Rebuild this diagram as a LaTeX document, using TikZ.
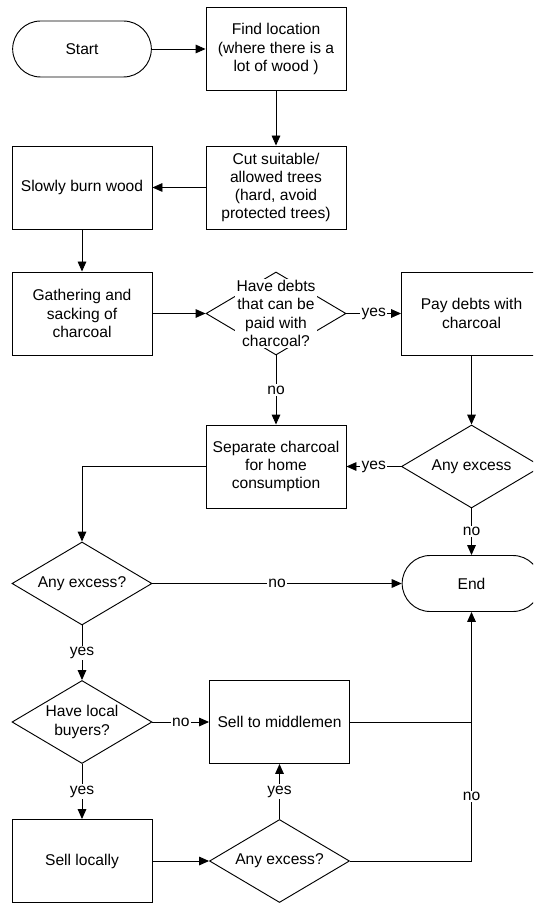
\documentclass[tikz,border=0pt]{standalone}
\usepackage{fontspec}
\setmainfont{Liberation Sans}
\usetikzlibrary{shapes.geometric,arrows.meta}

\begin{document}
\begin{tikzpicture}[x=0.75pt,y=-0.75pt,line width=0.7pt,
  every node/.style={font=\fontsize{11.7}{13.7}\selectfont},
  >={Triangle[length=7.5pt,width=6.5pt]},
  box/.style={draw,rectangle,minimum width=105pt,minimum height=62.25pt,align=center,inner sep=2pt},
  term/.style={draw,rounded corners=21pt,minimum width=104pt,minimum height=42pt},
  decide/.style={draw,diamond,minimum width=105pt,minimum height=62.25pt,inner sep=0pt},
  qtext/.style={fill=white,align=center,inner sep=1pt},
  lab/.style={fill=white,inner sep=1pt}]
\clip(0,0)rectangle(533,905);
%
\node[term](start)at(82,49){Start};
\node[box](find)at(276,49){Find location\\(where there is a\\lot of wood )};
\node[box](cut)at(276,187.5){Cut suitable/\\allowed trees\\(hard, avoid\\protected trees)};
\node[box](burn)at(82,187.5){Slowly burn wood};
\node[box](gather)at(82,313.5){Gathering and\\sacking of\\charcoal};
\node[decide,label={[qtext]center:Have debts\\that can be\\paid with\\charcoal?}](debts)at(276,313.5){};
\node[box](pay)at(471.5,313.5){Pay debts with\\charcoal};
\node[box](home)at(276,466.5){Separate charcoal\\for home\\consumption};
\node[decide,label={[qtext]center:Any excess}](exc1)at(471.5,466.5){};
\node[decide,label={[qtext]center:Any excess?}](exc2)at(82,583.5){};
\node[term](end)at(471.5,583.5){End};
\node[decide,label={[qtext]center:Have local\\buyers?}](local)at(82,722){};
\node[box](middle)at(279.5,722){Sell to middlemen};
\node[box](sell)at(82,861){Sell locally};
\node[decide,label={[qtext]center:Any excess?}](exc3)at(279.5,861){};
%
\draw[->](start)--(find);
\draw[->](find)--(cut);
\draw[->](cut)--(burn);
\draw[->](burn)--(gather);
\draw[->](gather)--(debts);
\draw[->](debts)--node[lab]{yes}(pay);
\draw[->](debts)--node[lab]{no}(home);
\draw[->](pay)--(exc1);
\draw[->](exc1)--node[lab]{yes}(home);
\draw[->](exc1)--node[lab]{no}(end);
\draw[->](home)-|(exc2);
\draw[->](exc2)--node[lab]{no}(end);
\draw[->](exc2)--node[lab]{yes}(local);
\draw[->](local)--node[lab]{no}(middle);
\draw[->](local)--node[lab]{yes}(sell);
\draw[->](sell)--(exc3);
\draw[->](exc3)--node[lab]{yes}(middle);
\draw[->](exc3)-|node[lab,pos=0.63]{no}(end);
\draw(middle)--(middle-|end);
\end{tikzpicture}
\end{document}
